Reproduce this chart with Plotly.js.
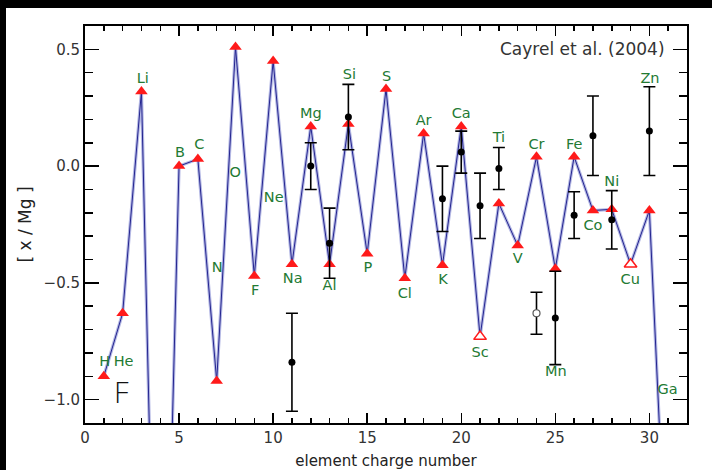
<!DOCTYPE html>
<html>
<head>
<meta charset="utf-8">
<script src="https://cdn.plot.ly/plotly-3.0.1.min.js"></script>
<style>
html,body{margin:0;padding:0;background:#000;width:712px;height:470px;overflow:hidden;}
#plot{position:absolute;left:6px;top:8px;width:706px;height:462px;}
</style>
</head>
<body>
<div id="plot"></div>
<script>
// Model abundances (red triangles), element Z = 1..31
const modelZ = [1,2,3,4,5,6,7,8,9,10,11,12,13,14,15,16,17,18,19,20,21,22,23,24,25,26,27,28,29,30,31];
const modelVal = [-0.90,-0.63,0.32,-3.1,0.00,0.03,-0.92,0.51,-0.47,0.45,-0.42,0.17,-0.42,0.18,-0.375,0.33,-0.48,0.14,-0.425,0.17,-0.73,-0.16,-0.34,0.04,-0.44,0.04,-0.19,-0.185,-0.42,-0.19,-1.92];
// open triangles (upper limits) for Sc and Cu
const openZ = [21,29];
const openVal = [-0.73,-0.42];

// Cayrel et al. (2004) observations
const obsZ = [11,12,13,14,19,20,21,22,25,26,27,28,30];
const obsVal = [-0.84,0.00,-0.33,0.21,-0.14,0.06,-0.17,-0.01,-0.65,-0.21,0.13,-0.23,0.15];
const obsErr = [0.21,0.10,0.15,0.14,0.14,0.09,0.14,0.09,0.20,0.10,0.17,0.125,0.19];
// Cr (open circle)
const crZ = [24];
const crVal = [-0.63];
const crErr = [0.09];

// element labels
const labels = ["H","He","Li","B","C","N","O","F","Ne","Na","Mg","Al","Si","P","S","Cl","Ar","K","Ca","Sc","Ti","V","Cr","Mn","Fe","Co","Ni","Cu","Zn","Ga"];
const labelX = [1.05,2.05,3.07,5.05,6.07,7.03,7.99,9.05,10.03,11.04,12.0,13.0,14.05,15.03,16.03,17.0,18.0,19.03,20.0,21.0,22.0,23.0,24.0,25.03,26.0,27.0,28.0,28.98,30.03,30.97];
const labelY = [-0.84,-0.84,0.37,0.055,0.09,-0.44,-0.03,-0.535,-0.14,-0.485,0.22,-0.515,0.39,-0.44,0.38,-0.55,0.19,-0.49,0.22,-0.80,0.12,-0.40,0.09,-0.885,0.09,-0.26,-0.07,-0.49,0.37,-0.96];

const xTickVals = [0,5,10,15,20,25,30];
const yTickVals = [-1.0,-0.5,0.0,0.5];

const green = "#237a33";
const font = "DejaVu Sans, Liberation Sans, sans-serif";

const traces = [
  {x: modelZ, y: modelVal, mode: "lines", line: {color: "#b4b8e4", width: 3.2}, hoverinfo: "skip"},
  {x: modelZ, y: modelVal, mode: "lines", line: {color: "#24248f", width: 1}, hoverinfo: "skip"},
  {x: modelZ.filter(z => !openZ.includes(z)), y: modelVal.filter((v,i) => !openZ.includes(modelZ[i])), mode: "markers",
   marker: {symbol: "triangle-up", size: 11, color: "#ff1a1a", line: {width: 0}}},
  {x: openZ, y: openVal, mode: "markers",
   marker: {symbol: "triangle-up", size: 11, color: "#ffffff", line: {color: "#ff1a1a", width: 1.5}}},
  {x: obsZ, y: obsVal, mode: "markers",
   marker: {symbol: "circle", size: 7, color: "#000"},
   error_y: {type: "data", array: obsErr, color: "#000", thickness: 1.6, width: 6}},
  {x: crZ, y: crVal, mode: "markers",
   marker: {symbol: "circle", size: 7, color: "#fff", line: {color: "#555", width: 1.2}},
   error_y: {type: "data", array: crErr, color: "#000", thickness: 1.6, width: 6}},
  {x: labelX, y: labelY, mode: "text", text: labels, textposition: "middle center",
   textfont: {family: font, size: 14.5, color: green}, cliponaxis: false}
];

const layout = {
  width: 706, height: 462,
  margin: {l: 79, r: 25, t: 18, b: 47},
  paper_bgcolor: "#fff", plot_bgcolor: "#fff",
  showlegend: false,
  font: {family: font, color: "#333", size: 15},
  xaxis: {
    range: [0, 32], tickvals: xTickVals, ticktext: xTickVals.map(String),
    ticks: "inside", ticklen: 10, tickwidth: 1.5, tickcolor: "#000",
    minor: {dtick: 1, ticks: "inside", ticklen: 5, tickwidth: 1.5, tickcolor: "#000"},
    showline: true, linecolor: "#000", linewidth: 2, mirror: "ticks",
    showgrid: false, zeroline: false,
    tickfont: {family: font, size: 15, color: "#333"},
    title: {text: "element charge number", font: {family: font, size: 15, color: "#222"}, standoff: 9}
  },
  yaxis: {
    range: [-1.1, 0.6], tickvals: yTickVals, ticktext: yTickVals.map(v => v.toFixed(1).replace("-", "\u2212")),
    ticks: "inside", ticklen: 14, tickwidth: 1.5, tickcolor: "#000",
    minor: {dtick: 0.1, tick0: 0, ticks: "inside", ticklen: 8, tickwidth: 1.5, tickcolor: "#000"},
    showline: true, linecolor: "#000", linewidth: 2, mirror: "ticks",
    showgrid: false, zeroline: false,
    tickfont: {family: font, size: 15, color: "#333"},
    title: {text: "[ x / Mg ]", font: {family: font, size: 17, color: "#222"}, standoff: 8}
  },
  annotations: [
    {xref: "paper", yref: "y", x: 0.966, y: 0.5, xanchor: "right", yanchor: "middle",
     text: "Cayrel et al. (2004)", showarrow: false, font: {family: font, size: 17, color: "#333"}},
    {xref: "x", yref: "y", x: 1.92, y: -0.965, text: "F", showarrow: false,
     font: {family: "Open Sans, DejaVu Sans, sans-serif", size: 29, color: "#111", weight: 300}}
  ]
};

Plotly.newPlot("plot", traces, layout, {displayModeBar: false, staticPlot: true});
</script>
</body>
</html>
